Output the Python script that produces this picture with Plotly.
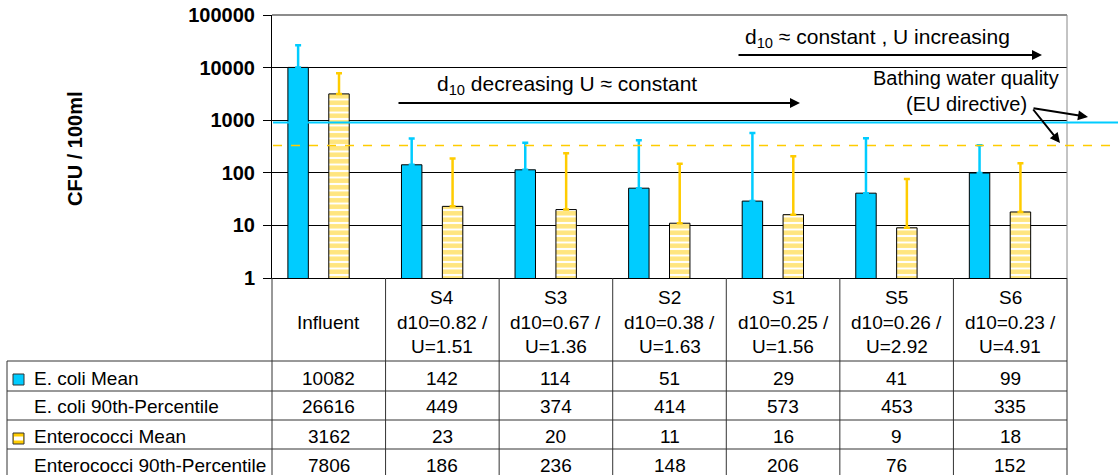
import plotly.graph_objects as go

# data
sites = ["Influent", "S4", "S3", "S2", "S1", "S5", "S6"]
d10 = [None, 0.82, 0.67, 0.38, 0.25, 0.26, 0.23]
u_vals = [None, 1.51, 1.36, 1.63, 1.56, 2.92, 4.91]
ecoli_mean = [10082, 142, 114, 51, 29, 41, 99]
ecoli_p90 = [26616, 449, 374, 414, 573, 453, 335]
entero_mean = [3162, 23, 20, 11, 16, 9, 18]
entero_p90 = [7806, 186, 236, 148, 206, 76, 152]
row_names = ["E. coli Mean", "E. coli 90th-Percentile",
             "Enterococci Mean", "Enterococci 90th-Percentile"]
eu_limit_ecoli = 900
eu_limit_entero = 330
tick_vals = [1, 10, 100, 1000, 10000, 100000]

BLUE = "#00CCFF"
YELLOW = "#FFCC00"
FONT = "Liberation Sans, Arial, sans-serif"

W, H = 1118, 475
L, R, T, B = 272, 51, 15, 197
PW, PH = W - L - R, H - T - B


# helpers: pixel -> paper coords
def px(x):
    return (x - L) / PW


def py(y):
    return (H - B - y) / PH


fig = go.Figure()

fig.add_trace(go.Bar(
    x=sites, y=ecoli_mean, name="E. coli Mean",
    marker=dict(color=BLUE, line=dict(color="black", width=1)),
    error_y=dict(type="data", symmetric=False,
                 array=[p - m for p, m in zip(ecoli_p90, ecoli_mean)],
                 arrayminus=[0] * len(sites),
                 color=BLUE, thickness=2.5, width=3)))
fig.add_trace(go.Bar(
    x=sites, y=ecoli_p90, name="E. coli 90th-Percentile",
    marker=dict(color="rgba(0,0,0,0)", line=dict(width=0)), hoverinfo="skip"))
fig.add_trace(go.Bar(
    x=sites, y=entero_mean, name="Enterococci Mean",
    marker=dict(color=YELLOW, line=dict(color="black", width=1),
                pattern=dict(shape="-", fgcolor=YELLOW, bgcolor="white",
                             size=6.5, solidity=0.7)),
    error_y=dict(type="data", symmetric=False,
                 array=[p - m for p, m in zip(entero_p90, entero_mean)],
                 arrayminus=[0] * len(sites),
                 color=YELLOW, thickness=2.5, width=3)))
fig.add_trace(go.Bar(
    x=sites, y=entero_p90, name="Enterococci 90th-Percentile",
    marker=dict(color="rgba(0,0,0,0)", line=dict(width=0)), hoverinfo="skip"))

shapes = []
# plot frame top/right (grey)
shapes.append(dict(type="line", xref="paper", yref="paper", x0=0, x1=1, y0=1, y1=1,
                   line=dict(color="#666666", width=1.5)))
shapes.append(dict(type="line", xref="paper", yref="paper", x0=1, x1=1, y0=0, y1=1,
                   line=dict(color="#888888", width=1)))

# EU directive lines
shapes.append(dict(type="line", xref="paper", yref="y", x0=px(273), x1=px(W + 2),
                   y0=eu_limit_ecoli, y1=eu_limit_ecoli,
                   line=dict(color=BLUE, width=2)))
shapes.append(dict(type="line", xref="paper", yref="y", x0=px(273), x1=px(W + 2),
                   y0=eu_limit_entero, y1=eu_limit_entero,
                   line=dict(color=YELLOW, width=1.5, dash="dash")))

# data table grid
TC = "#333333"
row_lines = [361, 391, 420, 449]
left_x = 7
for yl in row_lines:
    shapes.append(dict(type="line", xref="paper", yref="paper", x0=px(left_x), x1=1,
                       y0=py(yl), y1=py(yl), line=dict(color=TC, width=1)))
shapes.append(dict(type="line", xref="paper", yref="paper", x0=px(left_x), x1=px(left_x),
                   y0=py(361), y1=py(H + 5), line=dict(color=TC, width=1)))
n = len(sites)
for k in range(n + 1):
    shapes.append(dict(type="line", xref="paper", yref="paper", x0=k / n, x1=k / n,
                       y0=0, y1=py(H + 5), line=dict(color=TC, width=1)))

# legend keys
shapes.append(dict(type="rect", xref="paper", yref="paper", x0=px(13), x1=px(24),
                   y0=py(385), y1=py(374), fillcolor=BLUE, line=dict(color=TC, width=1)))
shapes.append(dict(type="rect", xref="paper", yref="paper", x0=px(13), x1=px(24),
                   y0=py(444), y1=py(433), fillcolor=YELLOW, line=dict(color=TC, width=1)))
shapes.append(dict(type="rect", xref="paper", yref="paper", x0=px(14), x1=px(23),
                   y0=py(440.5), y1=py(436.5), fillcolor="white", line=dict(width=0)))

ann = []
tf = dict(family=FONT, size=19, color="black")


def label(x, y, text, font, xref="paper", xanchor="center", **kw):
    d = dict(x=x, xref=xref, y=py(y), yref="paper", text=text, showarrow=False,
             xanchor=xanchor, yanchor="middle", font=font)
    d.update(kw)
    return d


# table header
for i, s in enumerate(sites):
    if d10[i] is None:
        ann.append(label(s, 322, s, tf, xref="x"))
    else:
        lines = [s, f"d10={d10[i]:.2f} /", f"U={u_vals[i]:.2f}"]
        for yl, t in zip([297, 322, 346], lines):
            ann.append(label(s, yl, t, tf, xref="x"))

# table rows
row_y = [378, 407, 436, 465]
for r, (name, vals) in enumerate(zip(row_names,
                                     [ecoli_mean, ecoli_p90, entero_mean, entero_p90])):
    ann.append(label(px(32), row_y[r], name, tf, xanchor="left"))
    for s, v in zip(sites, vals):
        ann.append(label(s, row_y[r], str(v), tf, xref="x"))

# y axis title
ann.append(label(px(75), 149, "CFU / 100ml",
                 dict(family=FONT, size=20, color="black", weight="bold"),
                 textangle=-90))

af = dict(family=FONT, size=21, color="black")
bf = dict(family=FONT, size=20, color="black")
ann.append(label(px(877), 38, "d<sub>10</sub> \u2248 constant , U increasing", af))
ann.append(label(px(567), 85, "d<sub>10</sub> decreasing U \u2248 constant", af))
ann.append(label(px(966), 78, "Bathing water quality", bf))
ann.append(label(px(966), 104, "(EU directive)", bf))


def arrow(x0, y0, x1, y1):
    return dict(x=px(x1), xref="paper", y=py(y1), yref="paper", text="",
                showarrow=True, ax=x0 - x1, ay=y0 - y1, axref="pixel", ayref="pixel",
                arrowhead=2, arrowsize=1, arrowwidth=2, arrowcolor="black",
                standoff=0, startstandoff=0)


ann.append(arrow(737, 55, 1042, 55))
ann.append(arrow(397, 103, 800, 103))
ann.append(arrow(1032, 108, 1088, 117))
ann.append(arrow(1032, 108, 1060, 143))

fig.update_layout(
    width=W, height=H,
    margin=dict(l=L, r=R, t=T, b=B, autoexpand=False),
    paper_bgcolor="white", plot_bgcolor="white",
    barmode="group", bargap=0.28, bargroupgap=0,
    showlegend=False,
    shapes=shapes, annotations=ann,
    font=dict(family=FONT, color="black"),
    xaxis=dict(type="category", range=[-0.5, n - 0.5], showticklabels=False,
               ticks="", showgrid=False, showline=True, linecolor="black",
               linewidth=1, zeroline=False, automargin=False),
    yaxis=dict(type="log", range=[0, 5], tickvals=tick_vals,
               ticktext=[str(v) for v in tick_vals], ticks="outside", ticklen=8,
               tickcolor="black", showline=True, linecolor="black", linewidth=1,
               showgrid=True, gridcolor="black", gridwidth=1, zeroline=False,
               automargin=False, ticklabeloverflow="allow", ticklabelstandoff=4,
               tickfont=dict(family=FONT, size=20, color="black", weight="bold")),
)

# drop the default 8px page margin so the figure sits at the window corner
fig.write_html("out.html", config={"displayModeBar": False},
               post_script="document.body.style.margin='0';")
